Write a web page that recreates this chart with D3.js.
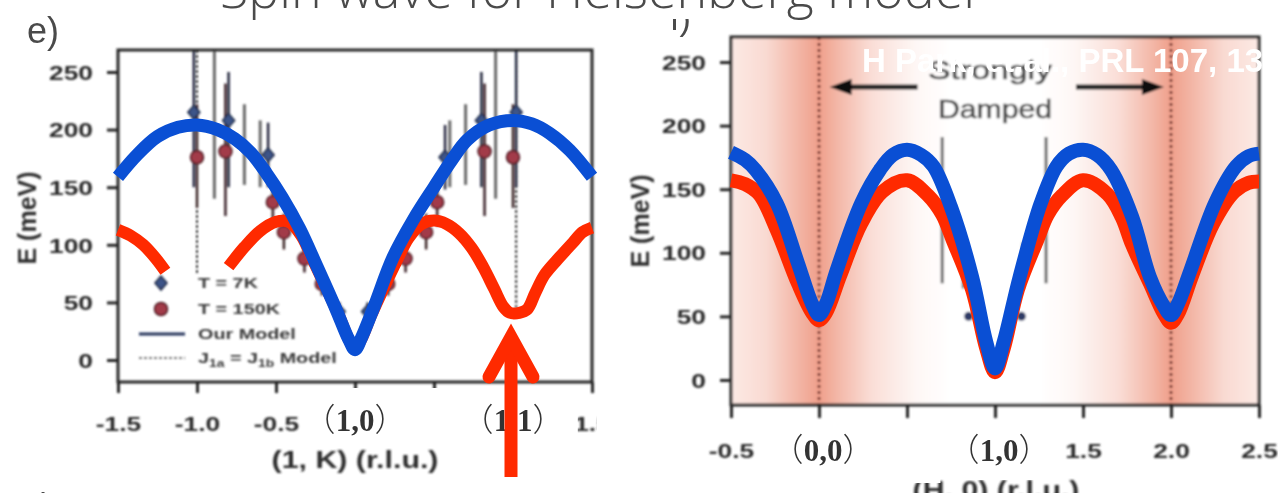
<!DOCTYPE html>
<html>
<head>
<meta charset="utf-8">
<script src="https://cdn.jsdelivr.net/npm/d3@7/dist/d3.min.js"></script>
<style>
  html, body { margin: 0; padding: 0; background: #fff; overflow: hidden; }
  svg { display: block; }
</style>
</head>
<body>
<svg id="chart" width="1278" height="493"></svg>
<script>
// ---------- ticks (labels at the lattice points are replaced by (h,k) labels) ----------
const energyTicks = [0, 50, 100, 150, 200, 250];
const kTicks = [-1.5, -1.0, -0.5, 0, 0.5, 1.0, 1.5];
const kTickLabels = ["-1.5", "-1.0", "-0.5", "", "", "", "1.5"];
const hTicks = [-0.5, 0, 0.5, 1.0, 1.5, 2.0, 2.5];
const hTickLabels = ["-0.5", "", "", "", "1.5", "2.0", "2.5"];

// ---------- panel e: measured points along (1, K), [K, E, E_low, E_high] in meV ----------
const pointsT7K = [
  [-1.02, 215, 150, 269], [-0.80, 208, 150, 250], [-0.55, 178, 150, 206],
  [-0.10, 42, 34, 50], [0.08, 42, 34, 50],
  [0.57, 176, 148, 204], [0.80, 208, 150, 250], [1.02, 215, 150, 269]
];
const pointsT150K = [
  [-1.00, 176, 132, 222], [-0.82, 181, 125, 240], [-0.52, 137, 116, 158],
  [-0.45, 111, 96, 127], [-0.32, 88, 76, 100], [-0.21, 66, 56, 77],
  [0.21, 66, 56, 77], [0.32, 88, 76, 100], [0.45, 111, 96, 127],
  [0.52, 137, 116, 158], [0.82, 181, 125, 240], [1.00, 176, 132, 222]
];
// bars without a visible marker, [K, E_low, E_high]
const extraBarsK = [
  [-0.89, 140, 269], [-0.70, 152, 222], [-0.60, 150, 208],
  [0.60, 150, 208], [0.70, 152, 222], [0.89, 140, 269]
];
// vertical steps of the J1a = J1b model, [K, E_low, E_high]
const dashedStepsK = [[-1.0, 75, 269], [1.02, 35, 269]];

// ---------- panel e: Heisenberg spin-wave curves, [K, E] ----------
const blueCurveK = [
  [-1.5, 159], [-1.38, 178], [-1.25, 194], [-1.12, 202], [-1.0, 204], [-0.87, 200],
  [-0.76, 192], [-0.66, 180], [-0.56, 162], [-0.46, 141], [-0.35, 114], [-0.24, 81],
  [-0.12, 44], [-0.04, 18], [0, 9], [0.04, 19], [0.12, 46], [0.24, 89], [0.37, 122],
  [0.5, 150], [0.61, 173], [0.71, 191], [0.85, 204], [1.0, 208], [1.12, 205],
  [1.23, 197], [1.36, 182], [1.5, 159]
];
const redCurveK1 = [[-1.5, 113], [-1.42, 108], [-1.34, 100], [-1.26, 88], [-1.2, 77]];
const redCurveK2 = [
  [-0.8, 81], [-0.7, 98], [-0.6, 112], [-0.5, 120], [-0.42, 120], [-0.34, 108],
  [-0.26, 85], [-0.18, 62], [-0.1, 38], [-0.04, 18], [0, 10], [0.04, 18], [0.1, 38],
  [0.18, 62], [0.26, 85], [0.34, 106], [0.42, 118], [0.5, 121], [0.58, 118],
  [0.66, 110], [0.74, 97], [0.81, 81], [0.88, 62], [0.94, 46], [0.98, 41],
  [1.04, 41], [1.09, 44], [1.14, 58], [1.2, 74], [1.3, 90], [1.38, 102],
  [1.44, 111], [1.5, 115]
];

// ---------- panel f: curves along (H, 0), [H, E] ----------
const blueCurveH = [
  [-0.5, 179], [-0.42, 173], [-0.36, 165], [-0.24, 139], [-0.12, 92], [-0.04, 60],
  [0, 51], [0.04, 60], [0.1, 86], [0.24, 139], [0.35, 166], [0.42, 177], [0.5, 181],
  [0.58, 177], [0.65, 168], [0.75, 136], [0.87, 81], [0.95, 30], [1.0, 9],
  [1.05, 30], [1.14, 81], [1.26, 139], [1.35, 168], [1.42, 178], [1.5, 181],
  [1.58, 177], [1.66, 165], [1.78, 128], [1.88, 81], [1.96, 58], [2.0, 51],
  [2.04, 60], [2.11, 86], [2.25, 139], [2.37, 168], [2.44, 176], [2.5, 178]
];
const redCurveH = [
  [-0.5, 157], [-0.42, 154], [-0.34, 146], [-0.24, 118], [-0.12, 76], [-0.04, 53],
  [0, 47], [0.04, 53], [0.12, 82], [0.24, 123], [0.36, 148], [0.5, 157], [0.62, 145],
  [0.7, 130], [0.76, 110], [0.87, 71], [0.95, 25], [1.0, 6], [1.05, 25], [1.13, 71],
  [1.24, 110], [1.3, 130], [1.38, 145], [1.5, 157], [1.64, 146], [1.72, 128],
  [1.78, 106], [1.88, 76], [1.96, 52], [2.0, 45], [2.04, 52], [2.12, 82],
  [2.24, 123], [2.36, 148], [2.44, 155], [2.5, 156]
];
const barsH = [[0.70, 76, 191], [1.29, 76, 191], [0.82, 72, 108], [1.16, 72, 108]];
const pointsH = [[0.85, 50], [1.15, 50]];
const dampedBoundsH = [0, 2];
const dampedArrowsH = [[0.56, 0.06], [1.46, 1.96]];   // [tail, head]
const shadeProfileH = [
  [-0.5, 0.16], [-0.3, 0.28], [-0.12, 0.55], [0, 0.72], [0.1, 0.55], [0.3, 0.25],
  [0.55, 0.06], [0.75, 0], [1.25, 0], [1.45, 0.06], [1.7, 0.25], [1.9, 0.55],
  [2.0, 0.72], [2.12, 0.55], [2.3, 0.28], [2.5, 0.16]
];

// ---------- point labels ----------
const kPointLabels = [[0, "1,0"], [1, "1,1"]];
const hPointLabels = [[0, "0,0"], [1, "1,0"]];

// ================= drawing =================
const svg = d3.select("#chart");
const defs = svg.append("defs");
defs.append("filter").attr("id", "soft")
  .attr("x", -0.05).attr("y", -0.05).attr("width", 1.1).attr("height", 1.1)
  .append("feGaussianBlur").attr("stdDeviation", 0.9);

const SX = 1.32;          // horizontal stretch of the inset figure lettering
const FIG_FONT = "'Liberation Sans', Arial, sans-serif";
const INK = "#262626";
const RED = "#ff2a00";
const BLUE = "#0a4fd4";

const xK = d3.scaleLinear().domain([-1.5, 1.5]).range([118, 592]);
const yK = d3.scaleLinear().domain([-19.1, 269.1]).range([382, 50]);
const xH = d3.scaleLinear().domain([-0.5, 2.5]).range([731, 1259]);
const yH = d3.scaleLinear().domain([-19.7, 269.7]).range([405, 37]);

function stretchedText(g, x, y, str, size, opts = {}) {
  return g.append("text")
    .attr("transform", `translate(${x},${y}) scale(${opts.sx || SX},1)`)
    .attr("text-anchor", opts.anchor || "start")
    .attr("dy", "0.35em")
    .attr("font-family", FIG_FONT)
    .attr("font-weight", opts.weight || "bold")
    .attr("font-size", size)
    .attr("fill", opts.fill || "#2e2e2e")
    .text(str);
}

function drawAxes(g, x, y, xTicks, xLabels, xTickLen, xLabelOff) {
  const [x0, x1] = x.range();
  const [y0, y1] = y.range();
  const yAx = d3.axisLeft(y).tickValues(energyTicks).tickSize(11).tickFormat(d3.format("d"));
  g.append("g").attr("transform", `translate(${x0},0)`).call(yAx)
    .call(s => s.select(".domain").remove())
    .call(s => s.selectAll(".tick line").attr("stroke", INK).attr("stroke-width", 3))
    .call(s => s.selectAll(".tick text")
      .attr("x", null).attr("dy", "0.36em")
      .attr("transform", `translate(-25,0) scale(${SX},1)`)
      .attr("text-anchor", "end")
      .attr("font-family", FIG_FONT).attr("font-weight", "bold")
      .attr("font-size", 20).attr("fill", "#2a2a2a"));
  const xAx = d3.axisBottom(x).tickValues(xTicks).tickSize(xTickLen)
    .tickFormat((d, i) => xLabels[i]);
  g.append("g").attr("transform", `translate(0,${y0})`).call(xAx)
    .call(s => s.select(".domain").remove())
    .call(s => s.selectAll(".tick line").attr("stroke", INK).attr("stroke-width", 3))
    .call(s => s.selectAll(".tick text")
      .attr("y", null).attr("dy", "0.36em")
      .attr("transform", `translate(0,${xLabelOff}) scale(${SX},1)`)
      .attr("text-anchor", "middle")
      .attr("font-family", FIG_FONT).attr("font-weight", "bold")
      .attr("font-size", 20).attr("fill", "#2a2a2a"));
  g.append("rect")
    .attr("x", x0).attr("y", y1).attr("width", x1 - x0).attr("height", y0 - y1)
    .attr("fill", "none").attr("stroke", INK).attr("stroke-width", 3);
}

const diamond = "M0,-7L6,0L0,7L-6,0Z";

// ---------- panel e ----------
const gE = svg.append("g").attr("filter", "url(#soft)");

gE.selectAll(".jstep").data(dashedStepsK).join("line")
  .attr("x1", d => xK(d[0])).attr("x2", d => xK(d[0]))
  .attr("y1", d => yK(d[2])).attr("y2", d => yK(d[1]))
  .attr("stroke", "#333").attr("stroke-width", 2).attr("stroke-dasharray", "3,2");

gE.selectAll(".gbar").data(extraBarsK).join("line")
  .attr("x1", d => xK(d[0])).attr("x2", d => xK(d[0]))
  .attr("y1", d => yK(d[2])).attr("y2", d => yK(d[1]))
  .attr("stroke", "#6a6a6a").attr("stroke-width", 3);

gE.selectAll(".bar150").data(pointsT150K).join("line")
  .attr("x1", d => xK(d[0])).attr("x2", d => xK(d[0]))
  .attr("y1", d => yK(d[3])).attr("y2", d => yK(d[2]))
  .attr("stroke", "#3b2228").attr("stroke-width", 2.5);
gE.selectAll(".bar7").data(pointsT7K).join("line")
  .attr("x1", d => xK(d[0])).attr("x2", d => xK(d[0]))
  .attr("y1", d => yK(d[3])).attr("y2", d => yK(d[2]))
  .attr("stroke", "#22283c").attr("stroke-width", 2.5);

gE.selectAll(".m150").data(pointsT150K).join("circle")
  .attr("cx", d => xK(d[0])).attr("cy", d => yK(d[1])).attr("r", 6.5)
  .attr("fill", "#a23b48").attr("stroke", "#4a1a22").attr("stroke-width", 1.5);
gE.selectAll(".m7").data(pointsT7K).join("path")
  .attr("d", diamond)
  .attr("transform", d => `translate(${xK(d[0])},${yK(d[1])})`)
  .attr("fill", "#3d5488").attr("stroke", "#1d2540").attr("stroke-width", 1.5);

drawAxes(gE, xK, yK, kTicks, kTickLabels, 11, 42);

// legend
const legX = 139, legMark = 161, legText = 198;
const legRows = [283, 309, 334, 358];
gE.append("path").attr("d", diamond).attr("transform", `translate(${legMark},${legRows[0]})`)
  .attr("fill", "#3d5488").attr("stroke", "#1d2540").attr("stroke-width", 1.5);
gE.append("circle").attr("cx", legMark).attr("cy", legRows[1]).attr("r", 6.5)
  .attr("fill", "#a23b48").attr("stroke", "#4a1a22").attr("stroke-width", 1.5);
gE.append("line").attr("x1", legX).attr("x2", legX + 46).attr("y1", legRows[2]).attr("y2", legRows[2])
  .attr("stroke", "#27345c").attr("stroke-width", 3);
gE.append("line").attr("x1", legX).attr("x2", legX + 46).attr("y1", legRows[3]).attr("y2", legRows[3])
  .attr("stroke", "#555").attr("stroke-width", 1.5).attr("stroke-dasharray", "3,2");
stretchedText(gE, legText, legRows[0], "T = 7K", 15, { fill: "#3a3a3a" });
stretchedText(gE, legText, legRows[1], "T = 150K", 15, { fill: "#3a3a3a" });
stretchedText(gE, legText, legRows[2], "Our Model", 15, { fill: "#3a3a3a" });
const jt = stretchedText(gE, legText, legRows[3], "", 15, { fill: "#3a3a3a" });
jt.append("tspan").text("J");
jt.append("tspan").attr("font-size", 10.5).attr("dy", 4).text("1a");
jt.append("tspan").attr("dy", -4).text(" = J");
jt.append("tspan").attr("font-size", 10.5).attr("dy", 4).text("1b");
jt.append("tspan").attr("dy", -4).text(" Model");

// axis titles
stretchedText(gE, d3.mean(xK.range()), 460, "(1, K) (r.l.u.)", 23, { anchor: "middle" });
gE.append("text")
  .attr("transform", `translate(27,${d3.mean(yK.range()) + 2}) rotate(-90)`)
  .attr("text-anchor", "middle").attr("dy", "0.35em")
  .attr("font-family", FIG_FONT).attr("font-weight", "bold").attr("font-size", 25)
  .attr("fill", "#2e2e2e").text("E (meV)");

// panel labels
svg.append("text").attr("x", 27).attr("y", 43)
  .attr("font-family", FIG_FONT).attr("font-size", 36).attr("fill", "#4a4a4a").text("e)");
svg.append("text").attr("x", 22).attr("y", 516)
  .attr("font-family", FIG_FONT).attr("font-size", 34).attr("fill", "#4a4a4a").text("g)");

// ---------- panel f ----------
svg.append("rect").attr("x", 597).attr("y", 0).attr("width", 681).attr("height", 493).attr("fill", "#fff");

const gF = svg.append("g").attr("filter", "url(#soft)");
const shade = d3.interpolateRgb("#ffffff", "#ea7a5e");
const grad = defs.append("linearGradient").attr("id", "damp")
  .attr("gradientUnits", "userSpaceOnUse")
  .attr("x1", xH.range()[0]).attr("x2", xH.range()[1]).attr("y1", 0).attr("y2", 0);
const hSpan = xH.domain()[1] - xH.domain()[0];
grad.selectAll("stop").data(shadeProfileH).join("stop")
  .attr("offset", d => (d[0] - xH.domain()[0]) / hSpan)
  .attr("stop-color", d => shade(d[1]));
gF.append("rect")
  .attr("x", xH.range()[0]).attr("y", yH.range()[1])
  .attr("width", xH.range()[1] - xH.range()[0]).attr("height", yH.range()[0] - yH.range()[1])
  .attr("fill", "url(#damp)");

gF.selectAll(".bound").data(dampedBoundsH).join("line")
  .attr("x1", d => xH(d)).attr("x2", d => xH(d))
  .attr("y1", yH.range()[1]).attr("y2", yH.range()[0])
  .attr("stroke", "#5e1c12").attr("stroke-width", 2.5).attr("stroke-dasharray", "3,3");

gF.selectAll(".hbar").data(barsH).join("line")
  .attr("x1", d => xH(d[0])).attr("x2", d => xH(d[0]))
  .attr("y1", d => yH(d[2])).attr("y2", d => yH(d[1]))
  .attr("stroke", "#666").attr("stroke-width", 3);
gF.selectAll(".hpt").data(pointsH).join("circle")
  .attr("cx", d => xH(d[0])).attr("cy", d => yH(d[1])).attr("r", 4.5)
  .attr("fill", "#2d3a66");

drawAxes(gF, xH, yH, hTicks, hTickLabels, 13, 46);

// strongly damped annotation
const arrowY = 87;
dampedArrowsH.forEach(([t, h]) => {
  const xt = xH(t), xh = xH(h), dir = Math.sign(xh - xt);
  gF.append("line").attr("x1", xt).attr("x2", xh - dir * 14)
    .attr("y1", arrowY).attr("y2", arrowY).attr("stroke", "#222").attr("stroke-width", 5);
  gF.append("path")
    .attr("d", `M${xh},${arrowY}L${xh - dir * 22},${arrowY - 8}L${xh - dir * 22},${arrowY + 8}Z`)
    .attr("fill", "#111");
});
const midH = d3.mean(dampedBoundsH);
gF.append("text").attr("x", xH(midH) - 5).attr("y", 79).attr("text-anchor", "middle")
  .attr("font-family", FIG_FONT).attr("font-size", 26).attr("fill", "#4e4e4e")
  .attr("stroke", "#4e4e4e").attr("stroke-width", 0.6)
  .attr("textLength", 124).attr("lengthAdjust", "spacingAndGlyphs").text("Strongly");
gF.append("text").attr("x", xH(midH)).attr("y", 118).attr("text-anchor", "middle")
  .attr("font-family", FIG_FONT).attr("font-size", 26).attr("fill", "#4e4e4e")
  .attr("stroke", "#4e4e4e").attr("stroke-width", 0.6)
  .attr("textLength", 114).attr("lengthAdjust", "spacingAndGlyphs").text("Damped");

stretchedText(gF, 996, 490, "(H, 0) (r.l.u.)", 23, { anchor: "middle" });
gF.append("text")
  .attr("transform", `translate(640,${d3.mean(yH.range())}) rotate(-90)`)
  .attr("text-anchor", "middle").attr("dy", "0.35em")
  .attr("font-family", FIG_FONT).attr("font-weight", "bold").attr("font-size", 25)
  .attr("fill", "#2e2e2e").text("E (meV)");

svg.append("text").attr("x", 670).attr("y", 30)
  .attr("font-family", FIG_FONT).attr("font-size", 34).attr("fill", "#4a4a4a").text("f)");
svg.append("rect").attr("x", 640).attr("y", 0).attr("width", 90).attr("height", 19).attr("fill", "#fff");

// ---------- spin-wave curves ----------
const curveOf = (x, y) => d3.line().x(d => x(d[0])).y(d => y(d[1])).curve(d3.curveCatmullRom.alpha(0.5));
const lineK = curveOf(xK, yK), lineH = curveOf(xH, yH);

[redCurveK1, redCurveK2].forEach(seg => {
  svg.append("path").attr("d", lineK(seg)).attr("fill", "none")
    .attr("stroke", RED).attr("stroke-width", 12).attr("stroke-linejoin", "round");
});
svg.append("path").attr("d", lineK(blueCurveK)).attr("fill", "none")
  .attr("stroke", BLUE).attr("stroke-width", 13).attr("stroke-linejoin", "round");

svg.append("path").attr("d", lineH(redCurveH)).attr("fill", "none")
  .attr("stroke", RED).attr("stroke-width", 14).attr("stroke-linejoin", "round");
svg.append("path").attr("d", lineH(blueCurveH)).attr("fill", "none")
  .attr("stroke", BLUE).attr("stroke-width", 14).attr("stroke-linejoin", "round");

// ---------- (h,k) point labels on white boxes ----------
function pointLabel(cx, cy, str) {
  const t = svg.append("text").attr("x", cx).attr("y", cy).attr("text-anchor", "middle")
    .attr("fill", "#333");
  t.append("tspan").attr("font-family", "'Noto Sans CJK SC', sans-serif").attr("font-size", 32)
    .attr("font-weight", 300).text("（");
  t.append("tspan").attr("font-family", "'Liberation Serif', 'Times New Roman', serif")
    .attr("font-weight", "bold").attr("font-size", 31).text(str);
  t.append("tspan").attr("font-family", "'Noto Sans CJK SC', sans-serif").attr("font-size", 32)
    .attr("font-weight", 300).text("）");
  return t;
}
const kBoxes = [[-0.29, 0.29], [0.31, 1.41]];
kBoxes.forEach(([a, b]) => svg.append("rect")
  .attr("x", xK(a)).attr("y", yK.range()[0] + 6).attr("width", xK(b) - xK(a)).attr("height", 59)
  .attr("fill", "#fff"));
const hBoxes = [[-0.2, 0.69], [0.76, 1.24]];
hBoxes.forEach(([a, b], i) => svg.append("rect")
  .attr("x", xH(a)).attr("y", yH.range()[0] + (i ? 18 : 25)).attr("width", xH(b) - xH(a))
  .attr("height", i ? 57 : 53).attr("fill", "#fff"));

kPointLabels.forEach(([k, s]) => pointLabel(xK(k), 431, s));
hPointLabels.forEach(([h, s]) => pointLabel(xH(h) + 4, 461, s));

// ---------- arrow marking (1,1) ----------
const arrowX = xK(1.0) - 2;
const tipY = yK(20);
const shaftEnd = yK.range()[0] + 95;
svg.append("line").attr("x1", arrowX).attr("x2", arrowX).attr("y1", tipY + 6).attr("y2", shaftEnd)
  .attr("stroke", RED).attr("stroke-width", 13).attr("stroke-linecap", "butt");
svg.append("path")
  .attr("d", `M${arrowX - 22},${tipY + 40}L${arrowX},${tipY}L${arrowX + 22},${tipY + 40}`)
  .attr("fill", "none").attr("stroke", RED).attr("stroke-width", 13)
  .attr("stroke-linejoin", "miter").attr("stroke-linecap", "round");

// ---------- citation and slide title ----------
svg.append("text").attr("x", 862).attr("y", 72)
  .attr("font-family", "'Liberation Sans', Arial, sans-serif").attr("font-weight", "bold")
  .attr("font-size", 33).attr("fill", "#fff").text("H Park, et.al., PRL 107, 137202 (2011)");

const title = svg.append("text").attr("x", 220).attr("y", 8)
  .attr("font-family", "'Open Sans', 'Liberation Sans', sans-serif").attr("font-weight", 300)
  .attr("font-size", 50).attr("fill", "#4a4a4a").text("Spin wave for Heisenberg model");
const tw = title.node().getComputedTextLength();
if (tw > 0) title.attr("font-size", 50 * 755 / tw);
</script>
</body>
</html>
